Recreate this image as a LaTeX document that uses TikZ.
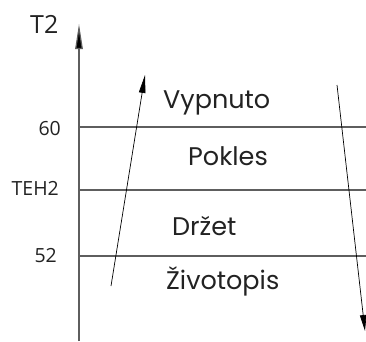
\documentclass[tikz,border=0pt]{standalone}
\usepackage{fontspec}
\setmainfont{Poppins}
\newfontfamily\lblfont{Open Sans}
\usetikzlibrary{arrows.meta}
\definecolor{linegray}{HTML}{5E5E5E}
\definecolor{txt}{HTML}{222222}
\begin{document}
\begin{tikzpicture}[x=1pt,y=-1pt,
  hline/.style={draw=linegray,line width=1.2pt},
  stateLbl/.style={inner sep=0pt,text=txt,font=\fontsize{25.5}{27}\selectfont,anchor=base west},
  valLbl/.style={inner sep=0pt,text=txt,font=\lblfont\fontsize{19.5}{21}\selectfont,anchor=base east},
  flow/.style={draw=black,line width=0.7pt}]
\useasboundingbox (0,0) rectangle (366,341);
% axis
\coordinate (axb) at (79,341);
\coordinate (axt) at (79,24);
\draw[draw=linegray,line width=1.2pt,-{Triangle[length=25pt,width=7.5pt,fill=black]}] (axb) -- (axt);
\node[inner sep=0pt,text=txt,font=\lblfont\fontsize{25}{27}\selectfont,anchor=base west] (t2) at (30,33) {T2};
% horizontal levels
\coordinate (l60a) at (79,127); \coordinate (l60b) at (366,127);
\coordinate (lteha) at (79,190); \coordinate (ltehb) at (366,190);
\coordinate (l52a) at (79,256); \coordinate (l52b) at (366,256);
\draw[hline] (l60a) -- (l60b);
\draw[hline] (lteha) -- (ltehb);
\draw[hline] (l52a) -- (l52b);
\node[valLbl] (v60) at (61,135) {60};
\node[valLbl] (vteh) at (59,195) {TEH2};
\node[valLbl] (v52) at (57,262) {52};
% states
\node[stateLbl] (s1) at (163,108) {Vypnuto};
\node[stateLbl] (s2) at (188,165) {Pokles};
\node[stateLbl] (s3) at (172,235) {Držet};
\node[stateLbl] (s4) at (166,289) {Životopis};
% arrows
\coordinate (upA) at (111,286); \coordinate (upB) at (145,75);
\coordinate (dnA) at (337,85); \coordinate (dnB) at (365,331);
\draw[flow,-{Triangle[length=18pt,width=6.5pt]}] (upA) -- (upB);
\draw[flow,-{Triangle[length=16pt,width=6.5pt]}] (dnA) -- (dnB);
\end{tikzpicture}
\end{document}
